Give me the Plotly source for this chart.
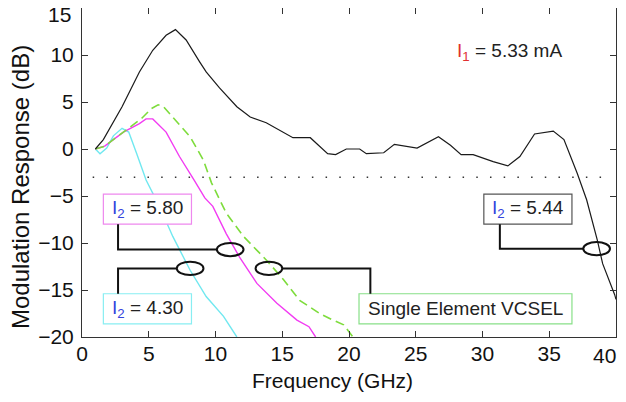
import plotly.graph_objects as go

# ---- data ----
black_x = [1, 1.6, 3.0, 4.3, 5.3, 6.3, 7.0, 7.8, 8.8, 9.3, 10.3, 11.6, 12.6, 13.8, 15.8, 17.1, 18.4, 19.0,
           19.8, 20.8, 21.3, 22.6, 23.4, 25.1, 26.7, 27.6, 28.4, 29.3, 30.8, 31.9, 32.8, 33.9, 35.3,
           36.1, 37.1, 37.8, 38.6, 39.0, 39.9, 40]
black_y = [0, 1.0, 4.5, 8.2, 10.5, 12.1, 12.7, 11.6, 9.3, 8.2, 6.5, 4.5, 3.4, 2.8, 1.2, 1.2, -0.5, -0.6,
           0.0, 0.0, -0.5, -0.4, 0.5, 0.1, 1.3, 0.4, -0.6, -0.6, -1.35, -1.8, -0.8, 1.6, 1.9,
           1.0, -2.6, -5.4, -9.7, -12.2, -15.5, -16]

mag_x = [1, 1.7, 3.1, 4.3, 4.8, 5.3, 6.3, 7.3, 8.4, 9.2, 9.8, 10.8, 11.8, 13.1, 14.6, 16.1, 17.0, 17.5]
mag_y = [0, 0.3, 1.8, 2.7, 3.2, 3.2, 1.8, -0.8, -3.3, -5.2, -6.1, -9.0, -11.5, -14.3, -16.4, -18.2, -18.9, -20]

cyan_x = [1, 1.35, 1.85, 2.35, 3.0, 3.5, 4.1, 4.8, 5.8, 6.8, 8.1, 9.3, 10.6, 11.6]
cyan_y = [0, -0.5, 0.1, 1.4, 2.2, 1.8, -0.5, -3.3, -6.1, -9.3, -12.9, -15.7, -17.8, -20]

green_x = [1, 1.7, 3.1, 4.5, 5.2, 5.7, 6.1, 6.8, 8.1, 9.1, 9.7, 10.8, 12.1, 13.8, 15.1, 16.3, 17.8, 18.8, 19.6, 20.3]
green_y = [0, 0.3, 1.8, 3.3, 4.3, 4.7, 4.5, 3.4, 1.3, -1.2, -3.6, -6.8, -9.3, -11.8, -13.9, -16.1, -17.5, -18.2, -18.7, -20]

threshold_x = [0.8, 39.2]
threshold_y = [-3, -3]

x_ticks = [0, 5, 10, 15, 20, 25, 30, 35, 40]
y_ticks = [15, 10, 5, 0, -5, -10, -15, -20]

FONT = "Liberation Sans, Arial, sans-serif"
BLUE = "#3344dd"

# page body adds an 8px margin on every side; figure sized to fit inside the window
W, H = 610, 386
ML, MR, MT, MB = 74, 2, 0, 57
PW, PH = W - ML - MR, H - MT - MB

fig = go.Figure()
fig.add_trace(go.Scatter(x=threshold_x, y=threshold_y, mode="lines",
                         line=dict(color="#333333", width=1.6, dash="1.5px,12.2px")))
fig.add_trace(go.Scatter(x=cyan_x, y=cyan_y, mode="lines", line=dict(color="#70e8f0", width=1.4)))
fig.add_trace(go.Scatter(x=mag_x, y=mag_y, mode="lines", line=dict(color="#f23cf2", width=1.4)))
fig.add_trace(go.Scatter(x=green_x, y=green_y, mode="lines",
                         line=dict(color="#7edc3c", width=1.6, dash="9px,5px")))
fig.add_trace(go.Scatter(x=black_x, y=black_y, mode="lines", line=dict(color="#1a1a1a", width=1.2)))

shapes = []
annotations = []

def box(x0, x1, y0, y1, color, text):
    shapes.append(dict(type="rect", xref="x", yref="y", x0=x0, x1=x1, y0=y0, y1=y1,
                       line=dict(color=color, width=1.2), fillcolor="white", layer="above"))
    annotations.append(dict(x=(x0 + x1) / 2, y=(y0 + y1) / 2, xref="x", yref="y", text=text,
                            showarrow=False, font=dict(family=FONT, size=19, color="#222")))

def ellipse(cx, cy):
    shapes.append(dict(type="circle", xref="x", yref="y", x0=cx - 1.0, x1=cx + 1.0,
                       y0=cy - 0.7, y1=cy + 0.7, line=dict(color="#111", width=2)))

def path(points):
    d = "M " + " L ".join(f"{px},{py}" for px, py in points)
    shapes.append(dict(type="path", xref="x", yref="y", path=d, line=dict(color="#111", width=2)))

i2 = f"<span style='color:{BLUE}'>I<sub>2</sub></span> = "
box(1.6, 8.2, -8.0, -4.8, "#ee88ee", i2 + "5.80")
box(1.6, 8.2, -18.6, -15.4, "#88eef2", i2 + "4.30")
box(20.75, 36.7, -18.6, -15.4, "#88e088", "Single Element VCSEL")
box(30.1, 36.7, -8.0, -4.8, "#555555", i2 + "5.44")

path([(2.7, -8.0), (2.7, -10.7), (10.1, -10.7)])
ellipse(11.1, -10.7)
path([(2.7, -15.4), (2.7, -12.7), (7.1, -12.7)])
ellipse(8.1, -12.7)
path([(15.0, -12.7), (21.6, -12.7), (21.6, -15.4)])
ellipse(14.0, -12.7)
path([(31.3, -8.0), (31.3, -10.6), (37.55, -10.6)])
ellipse(38.55, -10.6)

annotations.append(dict(x=32.0, y=10.3, xref="x", yref="y",
                        text="<span style='color:#e03030'>I<sub>1</sub></span> = 5.33 mA",
                        showarrow=False, font=dict(family=FONT, size=19, color="#222")))

# edge tick labels, drawn slightly inside the page so they are not clipped
annotations.append(dict(x=0, y=y_ticks[0], xref="paper", yref="y", xanchor="right", yanchor="middle",
                        xshift=-9, yshift=-6, text=str(y_ticks[0]), showarrow=False,
                        font=dict(family=FONT, size=21, color="#111")))
annotations.append(dict(x=x_ticks[-1], y=0, xref="x", yref="paper", xanchor="right", yanchor="top",
                        xshift=2, yshift=-5, text=str(x_ticks[-1]), showarrow=False,
                        font=dict(family=FONT, size=21, color="#111")))

def fig_to_paper(fx, fy):
    return (fx - ML) / PW, 1 - (fy - MT) / PH

tx, ty = fig_to_paper(332 - 8, 381 - 8)
annotations.append(dict(x=tx, y=ty, xref="paper", yref="paper", xanchor="center", yanchor="middle",
                        text="Frequency (GHz)", showarrow=False,
                        font=dict(family=FONT, size=21, color="#111")))
yx, yy = fig_to_paper(20 - 8, 177 - 8)
annotations.append(dict(x=yx, y=yy, xref="paper", yref="paper", xanchor="center", yanchor="middle",
                        yshift=-10, textangle=-90, text="Modulation Response (dB)", showarrow=False,
                        font=dict(family=FONT, size=24, color="#111")))

fig.update_layout(
    width=W, height=H,
    margin=dict(l=ML, r=MR, t=MT, b=MB),
    paper_bgcolor="white", plot_bgcolor="white",
    showlegend=False,
    shapes=shapes, annotations=annotations,
    font=dict(family=FONT, color="#111"),
)
fig.update_xaxes(range=[0, 40], tickvals=x_ticks[:-1], ticks="inside", ticklen=6, tickcolor="#333",
                 showline=True, linecolor="#333", linewidth=1, mirror="ticks", showgrid=False,
                 zeroline=False, automargin=False, ticklabeloverflow="allow", ticklabelstandoff=-2,
                 tickfont=dict(size=21, family=FONT, color="#111"))
fig.update_yaxes(range=[-20, 15], tickvals=y_ticks[1:], ticks="inside", ticklen=6, tickcolor="#333",
                 showline=True, linecolor="#333", linewidth=1, mirror="ticks", showgrid=False,
                 zeroline=False, automargin=False, ticklabeloverflow="allow", ticklabelstandoff=3,
                 tickfont=dict(size=21, family=FONT, color="#111"))

fig.write_html("out.html")
